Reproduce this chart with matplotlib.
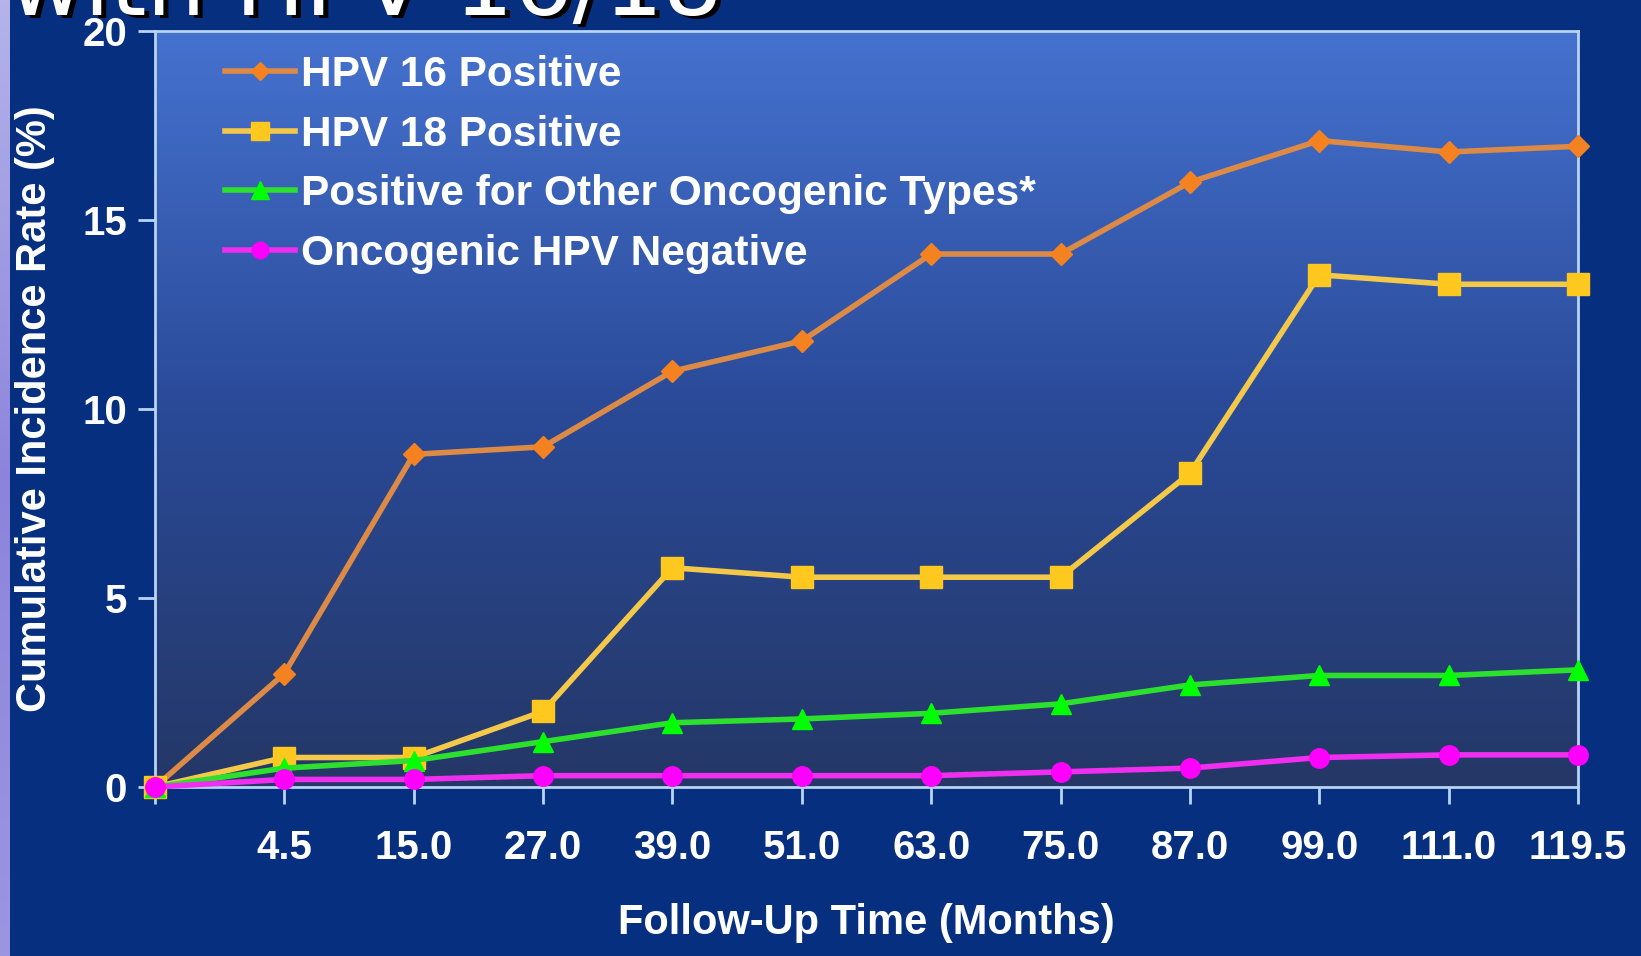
import numpy as np
import matplotlib
matplotlib.use("Agg")
from matplotlib import pyplot as plt
from matplotlib.colors import LinearSegmentedColormap

# follow-up visits (categorical axis, first slot is baseline)
months = ['', '4.5', '15.0', '27.0', '39.0', '51.0', '63.0', '75.0',
          '87.0', '99.0', '111.0', '119.5']

# cumulative incidence rate (%) per group
hpv16 = [0, 3.0, 8.8, 9.0, 11.0, 11.8, 14.1, 14.1, 16.0, 17.1, 16.8, 16.95]
hpv18 = [0, 0.78, 0.78, 2.0, 5.8, 5.55, 5.55, 5.55, 8.3, 13.55, 13.3, 13.3]
other_types = [0, 0.5, 0.7, 1.2, 1.7, 1.8, 1.95, 2.2, 2.7, 2.95, 2.95, 3.1]
hpv_negative = [0, 0.2, 0.2, 0.3, 0.3, 0.3, 0.3, 0.4, 0.5, 0.78, 0.85, 0.85]

NAVY = '#06307f'
SPINE = '#b8d4f4'

plt.rcParams['font.family'] = ['Liberation Sans', 'DejaVu Sans']

fig = plt.figure(figsize=(16.41, 9.56), dpi=100, facecolor=NAVY)

# lavender strip on the left edge and thin band on top
strip = fig.add_axes([0, 0, 10 / 1641, 1])
strip.imshow(np.linspace(0, 1, 256).reshape(-1, 1), aspect='auto',
             cmap=LinearSegmentedColormap.from_list('lav', ['#b4b4ea', '#8c84dc', '#9a96e2']),
             extent=[0, 1, 0, 1])
strip.axis('off')
band = fig.add_axes([0, 1 - 3 / 956, 1, 3 / 956])
band.set_facecolor('#948edc')
band.axis('off')

ax = fig.add_axes([155 / 1641, 169 / 956, 1423 / 1641, 756 / 956])

# plot area gradient
grad = LinearSegmentedColormap.from_list('bg', ['#243766', '#2a4a98', '#4572cf'])
ax.imshow(np.linspace(0, 1, 256).reshape(-1, 1), aspect='auto', cmap=grad,
          origin='lower', extent=[0, 1, 0, 1], transform=ax.transAxes, zorder=0)

x = np.arange(len(months))
ax.plot(x, hpv16, color='#dc8a46', lw=4, marker='D', ms=11,
        mfc='#f58220', mec='#f58220', label='HPV 16 Positive', zorder=3, clip_on=False)
ax.plot(x, hpv18, color='#f4c94a', lw=4, marker='s', ms=16,
        mfc='#ffc81e', mec='#ffc81e', label='HPV 18 Positive', zorder=3, clip_on=False)
ax.plot(x, other_types, color='#2ee02e', lw=4, marker='^', ms=15,
        mfc='#00ff00', mec='#00ff00', label='Positive for Other Oncogenic Types*', zorder=3, clip_on=False)
ax.plot(x, hpv_negative, color='#f02ef0', lw=4, marker='o', ms=14,
        mfc='#ff00ff', mec='#ff00ff', label='Oncogenic HPV Negative', zorder=3, clip_on=False)

ax.set_xlim(0, len(months) - 1)
ax.set_ylim(0, 20)
ax.set_xticks(x)
ax.set_xticklabels(months)
ax.set_yticks([0, 5, 10, 15, 20])

for s in ax.spines.values():
    s.set_color(SPINE)
    s.set_linewidth(2)
ax.tick_params(axis='both', colors=SPINE, length=12, width=2, labelcolor='white',
               labelsize=29)
ax.tick_params(axis='x', pad=18)
ax.tick_params(axis='y', pad=8)
for lbl in ax.get_xticklabels() + ax.get_yticklabels():
    lbl.set_fontweight('bold')

ax.set_xlabel('Follow-Up Time (Months)', color='white', fontsize=30,
              fontweight='bold', labelpad=26)
ax.set_ylabel('Cumulative Incidence Rate (%)', color='white', fontsize=30,
              fontweight='bold', labelpad=20)

leg = ax.legend(loc='upper left', bbox_to_anchor=(0.049, 0.968), frameon=False,
                fontsize=30.5, labelcolor='white', handlelength=1.65,
                handletextpad=0.15, labelspacing=0.46, borderpad=0,
                borderaxespad=0, markerscale=0.85)
for t in leg.get_texts():
    t.set_fontweight('bold')

# slide title, mostly cut off by the top edge
fig.text(8 / 1641 + 0.003, 1 - 18 / 956, 'with HPV 16/18', color='black',
         fontsize=67, family='DejaVu Sans', va='baseline')
fig.text(8 / 1641, 1 - 15 / 956, 'with HPV 16/18', color='white',
         fontsize=67, family='DejaVu Sans', va='baseline')

fig.savefig('out.png', dpi=100, facecolor=NAVY)
